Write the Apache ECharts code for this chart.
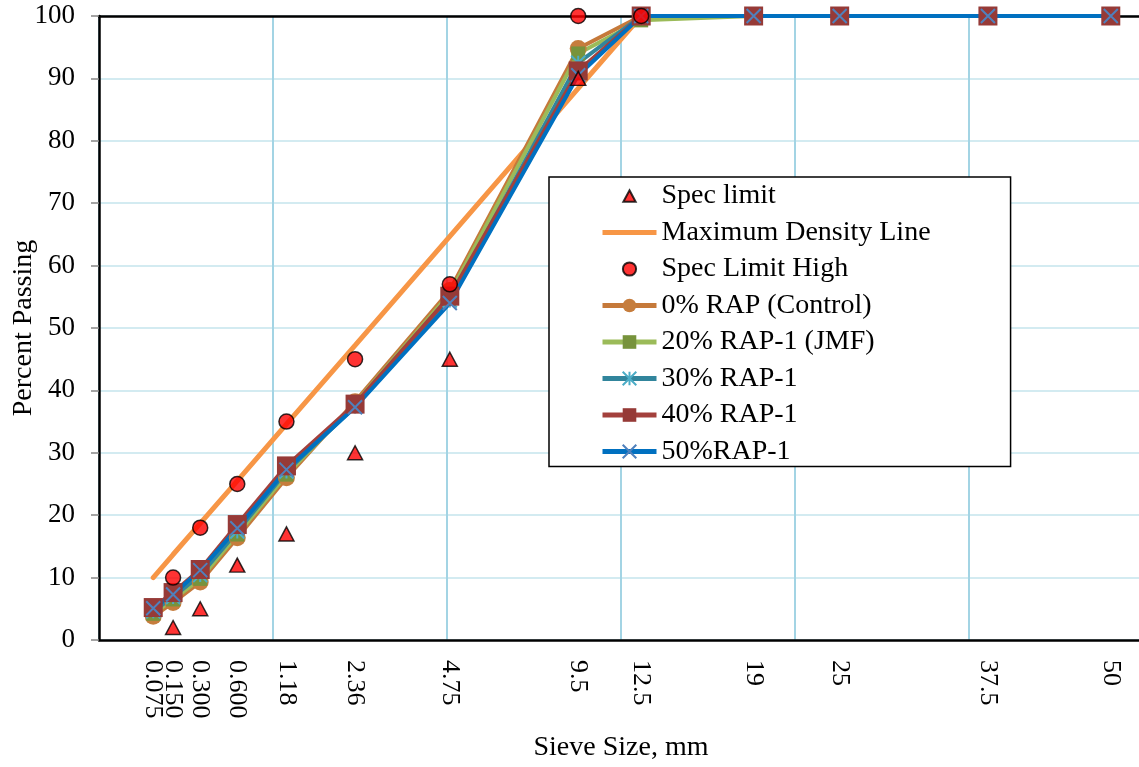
<!DOCTYPE html>
<html>
<head>
<meta charset="utf-8">
<title>Aggregate Gradation</title>
<script src="https://cdn.jsdelivr.net/npm/echarts@6/dist/echarts.min.js"></script>
<style>
  html, body { margin: 0; padding: 0; background: #ffffff; }
  #chart { width: 1139px; height: 767px; }
</style>
</head>
<body>
<div id="chart"></div>
<script>
// Sieve sizes (mm) and their printed labels
const sieveSizes  = [0.075, 0.15, 0.3, 0.6, 1.18, 2.36, 4.75, 9.5, 12.5, 19, 25, 37.5, 50];
const sieveLabels = ['0.075', '0.150', '0.300', '0.600', '1.18', '2.36', '4.75', '9.5', '12.5', '19', '25', '37.5', '50'];

// Percent passing for each blend
const rap0  = [3.8, 6.0,  9.3, 16.4, 26.0, 38.2, 56.0, 94.8, 100,  100, 100, 100, 100];
const rap20 = [4.2, 6.5,  9.8, 16.9, 26.5, 37.9, 55.5, 94.0, 99.3, 100, 100, 100, 100];
const rap30 = [4.6, 6.9, 10.4, 17.4, 27.0, 37.4, 54.4, 92.5, 100,  100, 100, 100, 100];
const rap40 = [5.2, 7.6, 11.3, 18.5, 27.9, 37.8, 55.1, 91.2, 100,  100, 100, 100, 100];
const rap50 = [5.1, 7.3, 11.2, 17.9, 27.3, 37.3, 54.0, 90.5, 100,  100, 100, 100, 100];

// Specification limits
const specLowSieves  = [0.15, 0.3, 0.6, 1.18, 2.36, 4.75, 9.5];
const specLow        = [2, 5, 12, 17, 30, 45, 90];
const specHighSieves = [0.15, 0.3, 0.6, 1.18, 2.36, 4.75, 9.5, 12.5];
const specHigh       = [10, 18, 25, 35, 45, 57, 100, 100];

// Maximum density line
const maxDensitySieves = [0.075, 0.15, 0.3, 0.6, 1.18, 2.36, 4.75, 9.5, 12.5];
const maxDensity       = [10, 13.7, 18.7, 25.5, 34.6, 47.2, 64.7, 88.4, 100];

// 0.45 power gradation scale
const POWER = 0.45;
const gx = s => Math.pow(s, POWER);
const pairs = (sizes, vals) => sizes.map((s, i) => [gx(s), vals[i]]);

const FONT = "'Times New Roman', 'Liberation Serif', serif";

const crossPath = 'path://M0,0L14,14M14,0L0,14';
const starPath  = 'path://M7,0L7,14M0,0L14,14M14,0L0,14';
// Legend icons for the marker-only series, drawn inside a padded 18x18 box
const legendTriangle = 'path://M0,0L0,0M18,18L18,18M9,3L15.5,15L2.5,15Z';
const legendDot      = 'path://M0,0L0,0M18,18L18,18M9,2A7,7,0,1,1,8.99,2Z';

function sieveLabel(value) {
  for (let i = 0; i < sieveSizes.length; i++) {
    if (Math.abs(gx(sieveSizes[i]) - value) < 1e-6) return sieveLabels[i];
  }
  return '';
}

// Sieve labels are split over two bottom axes so the crowded fine sizes all stay visible
function sieveAxis(parity, withLine) {
  return {
    type: 'value',
    position: 'bottom',
    offset: 0,
    min: 0,
    max: 6,
    interval: 1,
    name: withLine ? 'Sieve Size, mm' : '',
    nameLocation: 'middle',
    nameGap: 94,
    nameMoveOverlap: false,
    nameTextStyle: { fontFamily: FONT, fontSize: 28, color: '#000000' },
    axisLine: { show: withLine, onZero: false, lineStyle: { color: '#000000', width: 2.5 } },
    axisTick: { show: false },
    splitLine: { show: withLine, lineStyle: { color: '#a3d4e4', width: 2 } },
    axisLabel: {
      customValues: sieveSizes.filter((s, i) => i % 2 === parity).map(gx),
      rotate: -90,
      margin: 20,
      fontFamily: FONT,
      fontSize: 26,
      color: '#000000',
      hideOverlap: false,
      formatter: sieveLabel
    }
  };
}

function blend(name, values, lineColor, markColor, symbol, size, strokeOnly) {
  return {
    name: name,
    type: 'line',
    data: pairs(sieveSizes, values),
    symbol: symbol,
    symbolSize: size,
    showAllSymbol: true,
    lineStyle: { color: lineColor, width: 4 },
    itemStyle: strokeOnly
      ? { color: 'rgba(0,0,0,0)', borderColor: markColor, borderWidth: 2 }
      : { color: markColor, borderColor: markColor, borderWidth: 0 },
    emphasis: { disabled: true },
    animation: false
  };
}

const chart = echarts.init(document.getElementById('chart'), null, { renderer: 'canvas' });

chart.setOption({
  backgroundColor: '#ffffff',
  animation: false,
  textStyle: { fontFamily: FONT },
  grid: { left: 99, top: 16, width: 1044, height: 624, outerBoundsMode: 'none', containLabel: false },
  legend: {
    orient: 'vertical',
    left: 549,
    top: 177,
    padding: [5, 80, 1, 51],
    itemGap: 8.5,
    itemWidth: 54,
    itemHeight: 17,
    symbolKeepAspect: true,
    backgroundColor: '#ffffff',
    borderColor: '#000000',
    borderWidth: 1.5,
    borderRadius: 0,
    selectedMode: false,
    lineStyle: { width: 5 },
    textStyle: { fontFamily: FONT, fontSize: 28, color: '#000000' },
    data: [
      { name: 'Spec limit', icon: legendTriangle },
      { name: 'Maximum Density Line', icon: 'path://M0,0L56,0L56,5L0,5Z' },
      { name: 'Spec Limit High', icon: legendDot },
      { name: '0% RAP (Control)' },
      { name: '20% RAP-1 (JMF)' },
      { name: '30% RAP-1' },
      { name: '40% RAP-1' },
      { name: '50%RAP-1' }
    ]
  },
  xAxis: [
    sieveAxis(0, true),
    {
      type: 'value',
      position: 'top',
      min: 0,
      max: 6,
      interval: 1,
      axisLine: { show: true, onZero: false, lineStyle: { color: '#000000', width: 2.5 } },
      axisTick: { show: false },
      axisLabel: { show: false },
      splitLine: { show: false }
    },
    sieveAxis(1, false)
  ],
  yAxis: {
    type: 'value',
    min: 0,
    max: 100,
    interval: 10,
    name: 'Percent Passing',
    nameLocation: 'middle',
    nameGap: 61,
    nameMoveOverlap: false,
    nameTextStyle: { fontFamily: FONT, fontSize: 28, color: '#000000' },
    axisLine: { show: true, onZero: false, lineStyle: { color: '#000000', width: 2.5 } },
    axisTick: { show: true, inside: false, length: 8, lineStyle: { color: '#868686', width: 1.5 } },
    splitLine: { show: true, lineStyle: { color: '#c4e4ed', width: 1.5 } },
    axisLabel: { margin: 24, fontFamily: FONT, fontSize: 27, color: '#000000' }
  },
  series: [
    {
      name: 'Maximum Density Line',
      type: 'line',
      data: pairs(maxDensitySieves, maxDensity),
      symbol: 'none',
      lineStyle: { color: '#f79646', width: 5, cap: 'round' },
      itemStyle: { color: '#f79646' },
      emphasis: { disabled: true },
      z: 1
    },
    blend('0% RAP (Control)', rap0, '#c5793a', '#c67d3d', 'circle', 17, false),
    blend('20% RAP-1 (JMF)', rap20, '#9bbb59', '#77933c', 'rect', 14, false),
    blend('30% RAP-1', rap30, '#31859c', '#4bacc6', starPath, 14, true),
    blend('40% RAP-1', rap40, '#a3403c', '#963a37', 'rect', 19, false),
    blend('50%RAP-1', rap50, '#0070c0', '#4f81bd', crossPath, 14, true),
    {
      name: 'Spec limit',
      type: 'scatter',
      data: pairs(specLowSieves, specLow),
      symbol: 'triangle',
      symbolSize: [15, 14],
      itemStyle: { color: '#ff0000', borderColor: '#000000', borderWidth: 1.5 },
      emphasis: { disabled: true },
      z: 5
    },
    {
      name: 'Spec Limit High',
      type: 'scatter',
      data: pairs(specHighSieves, specHigh),
      symbol: 'circle',
      symbolSize: 15,
      itemStyle: { color: '#ff0000', borderColor: '#000000', borderWidth: 1.5 },
      emphasis: { disabled: true },
      z: 5
    }
  ]
});
</script>
</body>
</html>
